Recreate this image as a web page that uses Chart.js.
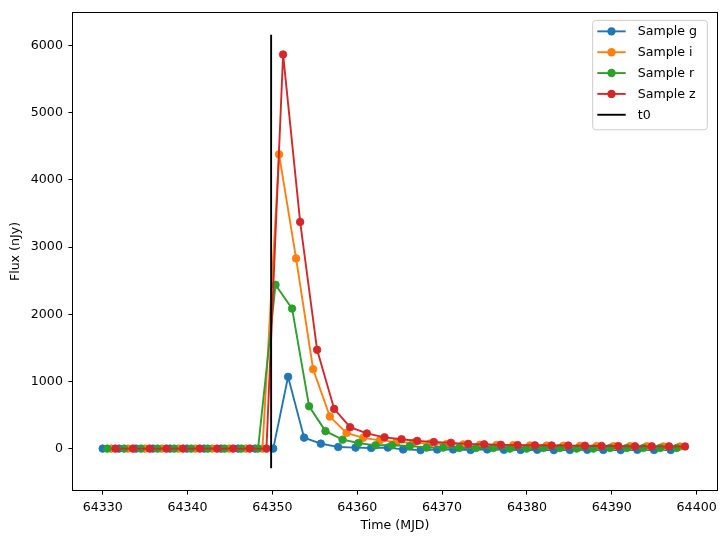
<!DOCTYPE html>
<html><head><meta charset="utf-8">
<script src="https://cdn.jsdelivr.net/npm/chart.js@4/dist/chart.umd.min.js"></script>
<style>html,body{margin:0;padding:0;background:#fff;}#wrap{position:relative;width:724px;height:543px;}</style>
</head><body><div id="wrap"><canvas id="c" width="724" height="543"></canvas></div>
<script>
// ---- data ----
const gTimes = [64330.0, 64331.92, 64333.93, 64335.93, 64337.94, 64339.94, 64341.95, 64343.95, 64345.96, 64347.96, 64350.1, 64351.85, 64353.74, 64355.71, 64357.75, 64359.8, 64361.64, 64363.61, 64365.41, 64367.46, 64369.42, 64371.3, 64373.36, 64375.32, 64377.29, 64379.26, 64381.21, 64383.18, 64385.07, 64387.11, 64389.0, 64391.05, 64393.01, 64394.98, 64396.95];
const gFlux = [0, 0, 0, 0, 0, 0, 0, 0, 0, 0, 0, 1068, 163, 74, 24, 15, 9, 15, -12, -22, -14, -12, -20, -12, -18, -20, -18, -22, -20, -18, -20, -22, -18, -20, -20];

const iTimes = [64331.0, 64332.98, 64334.96, 64336.95, 64338.93, 64340.91, 64342.89, 64344.87, 64346.85, 64348.83, 64350.79, 64352.79, 64354.8, 64356.77, 64358.74, 64360.7, 64362.67, 64364.63, 64366.59, 64368.56, 64370.53, 64372.49, 64374.46, 64376.43, 64378.38, 64380.35, 64382.32, 64384.29, 64386.25, 64388.22, 64390.18, 64392.15, 64394.12, 64396.07, 64398.04];
const iFlux = [0, 0, 0, 0, 0, 0, 0, 0, 0, 0, 4379, 2831, 1182, 477, 233, 160, 123, 100, 86, 76, 68, 62, 57, 53, 50, 47, 44, 42, 40, 38, 36, 35, 34, 32, 31];

const rTimes = [64330.55, 64332.52, 64334.5, 64336.47, 64338.44, 64340.42, 64342.39, 64344.36, 64346.33, 64348.31, 64350.37, 64352.32, 64354.33, 64356.26, 64358.27, 64360.15, 64362.16, 64364.08, 64366.2, 64368.17, 64370.13, 64372.02, 64373.99, 64376.03, 64378.0, 64379.96, 64381.92, 64383.89, 64385.86, 64387.82, 64389.79, 64391.76, 64393.71, 64395.68, 64397.65];
const rFlux = [0, 0, 0, 0, 0, 0, 0, 0, 0, 0, 2438, 2084, 630, 260, 133, 83, 49, 49, 38, 15, 15, 9, 9, 9, 0, 0, 9, 9, 0, 0, 9, 9, 9, 9, 9];

const zTimes = [64331.5, 64333.57, 64335.54, 64337.51, 64339.47, 64341.44, 64343.48, 64345.37, 64347.33, 64349.3, 64351.26, 64353.27, 64355.27, 64357.28, 64359.16, 64361.13, 64363.22, 64365.22, 64367.06, 64369.03, 64371.04, 64373.08, 64374.96, 64376.93, 64378.9, 64380.94, 64382.91, 64384.87, 64386.84, 64388.81, 64390.77, 64392.74, 64394.71, 64396.75, 64398.63];
const zFlux = [0, 0, 0, 0, 0, 0, 0, 0, 0, 0, 5867, 3374, 1470, 591, 319, 226, 168, 140, 115, 98, 86, 70, 64, 56, 52, 49, 47, 45, 43, 40, 37, 35, 34, 33, 32];

const t0Time = 64349.85;
const t0Flux = [-293, 6160];

const seriesLabels = ['Sample g', 'Sample i', 'Sample r', 'Sample z', 't0'];
const xTicks = [64330, 64340, 64350, 64360, 64370, 64380, 64390, 64400];
const yTicks = [0, 1000, 2000, 3000, 4000, 5000, 6000];
const xLabel = 'Time (MJD)';
const yLabel = 'Flux (nJy)';

// ---- styling ----
const FAMILY = '"DejaVu Sans", sans-serif';
const FS = 12.6;
const COLORS = ['#1f77b4', '#ff7f0e', '#2ca02c', '#d62728', '#000000'];

function pts(times, flux) { return times.map((t, k) => ({x: t, y: flux[k]})); }

function seriesDs(label, times, flux, color, order) {
  return {
    label, data: pts(times, flux), borderColor: color, backgroundColor: color,
    pointBackgroundColor: color, pointBorderColor: color,
    borderWidth: 1.9, pointRadius: 3.8, pointBorderWidth: 0.8, pointHoverRadius: 3.8,
    tension: 0, showLine: true, order, clip: 6
  };
}

const datasets = [
  seriesDs(seriesLabels[0], gTimes, gFlux, COLORS[0], 5),
  seriesDs(seriesLabels[1], iTimes, iFlux, COLORS[1], 4),
  seriesDs(seriesLabels[2], rTimes, rFlux, COLORS[2], 3),
  seriesDs(seriesLabels[3], zTimes, zFlux, COLORS[3], 2),
  {
    label: seriesLabels[4], data: pts([t0Time, t0Time], t0Flux), borderColor: COLORS[4],
    backgroundColor: COLORS[4], borderWidth: 1.9, pointRadius: 0, showLine: true, order: 1
  }
];

const framePlugin = {
  id: 'frame',
  afterDatasetsDraw(chart) {
    const a = chart.chartArea, ctx = chart.ctx;
    ctx.save();
    ctx.strokeStyle = '#000'; ctx.lineWidth = 1;
    ctx.strokeRect(Math.round(a.left) - 0.5, Math.round(a.top) - 0.5,
                   Math.round(a.right - a.left) + 1, Math.round(a.bottom - a.top) + 1);
    ctx.restore();
  }
};

const legendPlugin = {
  id: 'mplLegend',
  afterDraw(chart) {
    const a = chart.chartArea, ctx = chart.ctx;
    const w = 114.6, h = 109.4;
    const bx = a.right - 9.7 - w, by = a.top + 7.3;
    ctx.save();
    ctx.beginPath();
    if (ctx.roundRect) ctx.roundRect(bx, by, w, h, 3); else ctx.rect(bx, by, w, h);
    ctx.fillStyle = 'rgba(255,255,255,0.8)';
    ctx.fill();
    ctx.strokeStyle = '#cccccc'; ctx.lineWidth = 1;
    ctx.stroke();
    const dsets = chart.data.datasets;
    dsets.forEach((d, i) => {
      const y = by + 11 + i * 20.85;
      const x0 = bx + 4.6, x1 = bx + 33;
      ctx.strokeStyle = d.borderColor; ctx.lineWidth = 1.9;
      ctx.beginPath(); ctx.moveTo(x0, y); ctx.lineTo(x1, y); ctx.stroke();
      if (d.pointRadius > 0) {
        ctx.fillStyle = d.borderColor;
        ctx.beginPath(); ctx.arc((x0 + x1) / 2, y, 4.2, 0, Math.PI * 2); ctx.fill();
      }
      ctx.fillStyle = '#000';
      ctx.font = FS + 'px ' + FAMILY;
      ctx.textBaseline = 'middle'; ctx.textAlign = 'left';
      ctx.fillText(d.label, bx + 45, y + 0.5);
    });
    ctx.restore();
  }
};

function axisCommon(pad) {
  return {
    type: 'linear',
    grid: {drawOnChartArea: false, drawTicks: true, tickLength: 4.6, color: '#000', tickWidth: 1},
    border: {display: false},
    ticks: {color: '#000', font: {family: FAMILY, size: FS}, padding: pad, maxRotation: 0, autoSkip: false,
            callback: v => String(v)},
  };
}

new Chart(document.getElementById('c').getContext('2d'), {
  type: 'line',
  data: {datasets},
  options: {
    responsive: false, animation: false, devicePixelRatio: 1,
    layout: {padding: {left: 0, right: 7, top: 10, bottom: 0}},
    plugins: {legend: {display: false}, tooltip: {enabled: false}},
    scales: {
      x: Object.assign(axisCommon(6), {
        position: 'bottom', min: 64326.5, max: 64402.4,
        afterBuildTicks: s => { s.ticks = xTicks.map(v => ({value: v})); },
        afterFit: s => { s.height = 53; },
        title: {display: true, text: xLabel, color: '#000', font: {family: FAMILY, size: FS}, padding: {top: 0, bottom: 10}}
      }),
      y: Object.assign(axisCommon(5.5), {
        position: 'left', min: -616, max: 6483,
        afterBuildTicks: s => { s.ticks = yTicks.map(v => ({value: v})); },
        afterFit: s => { s.width = 73; },
        title: {display: true, text: yLabel, color: '#000', font: {family: FAMILY, size: FS}, padding: {top: 8.5, bottom: 0}}
      })
    }
  },
  plugins: [framePlugin, legendPlugin]
});
</script></body></html>
